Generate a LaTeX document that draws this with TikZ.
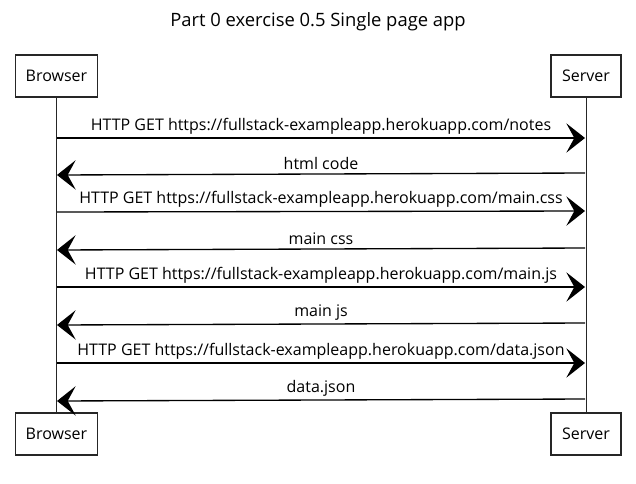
\documentclass[tikz,border=0pt]{standalone}
\usepackage{fontspec}
\setmainfont{Open Sans}
\usetikzlibrary{positioning,arrows.meta}

\begin{document}
\begin{tikzpicture}[
    x=0.75pt, y=-0.75pt,
    actor/.style={draw=black!85, line width=0.8pt, minimum height=31.5pt, inner sep=0pt, font=\fontsize{12}{14}\selectfont},
    life/.style={draw=black!85, line width=0.7pt},
    msg/.style={draw=black, line width=1pt, -{Stealth[length=14pt, width=22pt, inset=6pt]}},
    msglab/.style={font=\fontsize{12}{14}\selectfont, anchor=south, inner sep=2.5pt},
]
\useasboundingbox (0,0) rectangle (636,483);

% Title
\node[font=\fontsize{13.8}{16}\selectfont] (title) at (318,22) {Part 0 exercise 0.5 Single page app};

% Participants
\node[actor, minimum width=62pt] (btop) at (56.5,76) {Browser};
\node[actor, minimum width=52.5pt] (stop) at (586,76) {Server};
\node[actor, minimum width=62pt] (bbot) at (56.5,434) {Browser};
\node[actor, minimum width=52.5pt] (sbot) at (586,434) {Server};

% Lifelines
\draw[life] (btop.south) -- (bbot.north);
\draw[life] (stop.south) -- (sbot.north);

% Message end points
\coordinate (b1) at (57,138); \coordinate (s1) at (585,138);
\coordinate (b2) at (57,175); \coordinate (s2) at (585,173);
\coordinate (b3) at (57,212); \coordinate (s3) at (585,211);
\coordinate (b4) at (57,250); \coordinate (s4) at (585,248);
\coordinate (b5) at (57,287); \coordinate (s5) at (585,287);
\coordinate (b6) at (57,325); \coordinate (s6) at (585,323);
\coordinate (b7) at (57,363); \coordinate (s7) at (585,363);
\coordinate (b8) at (57,401); \coordinate (s8) at (585,399);

% Messages
\draw[msg] (b1) -- node[msglab] {HTTP GET https://fullstack-exampleapp.herokuapp.com/notes} (s1);
\draw[msg] (s2) -- node[msglab] {html code} (b2);
\draw[msg] (b3) -- node[msglab] {HTTP GET https://fullstack-exampleapp.herokuapp.com/main.css} (s3);
\draw[msg] (s4) -- node[msglab] {main css} (b4);
\draw[msg] (b5) -- node[msglab] {HTTP GET https://fullstack-exampleapp.herokuapp.com/main.js} (s5);
\draw[msg] (s6) -- node[msglab] {main js} (b6);
\draw[msg] (b7) -- node[msglab] {HTTP GET https://fullstack-exampleapp.herokuapp.com/data.json} (s7);
\draw[msg] (s8) -- node[msglab] {data.json} (b8);
\end{tikzpicture}
\end{document}
